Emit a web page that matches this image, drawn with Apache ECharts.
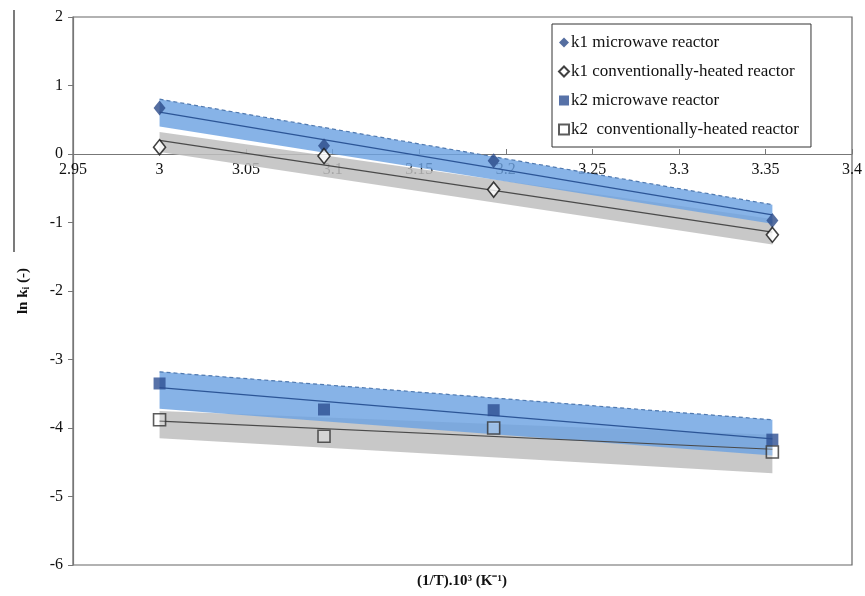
<!DOCTYPE html>
<html>
<head>
<meta charset="utf-8">
<script src="https://cdn.jsdelivr.net/npm/echarts@6/dist/echarts.min.js"></script>
<style>html,body{margin:0;padding:0;background:#fff}#c{width:865px;height:596px}</style>
</head>
<body>
<div id="c"></div>
<script>
// ---- data ----
const xValues = [3.0, 3.095, 3.193, 3.354];
const k1Microwave = [0.67, 0.12, -0.10, -0.97];
const k1Conventional = [0.10, -0.03, -0.52, -1.18];
const k2Microwave = [-3.35, -3.73, -3.74, -4.17];
const k2Conventional = [-3.88, -4.12, -4.00, -4.35];

// trend lines and shaded bands (ends at x = 3.0 and x = 3.354)
const trendX = [3.0, 3.354];
const k1MicrowaveTrend = [0.61, -0.89];
const k1ConventionalTrend = [0.20, -1.14];
const k2MicrowaveTrend = [-3.41, -4.16];
const k2ConventionalTrend = [-3.90, -4.31];
const k1MicrowaveBandHi = [0.80, -0.74];
const k1MicrowaveBandLo = [0.40, -1.02];
const k1ConventionalBandHi = [0.32, -0.95];
const k1ConventionalBandLo = [0.03, -1.32];
const k2MicrowaveBandHi = [-3.18, -3.88];
const k2MicrowaveBandLo = [-3.72, -4.40];
const k2ConventionalBandHi = [-3.75, -4.10];
const k2ConventionalBandLo = [-4.15, -4.66];

const xTicks = { min: 2.95, max: 3.4, interval: 0.05 };
const yTicks = { min: -6, max: 2, interval: 1 };

const legendNames = ['k1 microwave reactor', 'k1 conventionally-heated reactor', 'k2 microwave reactor', 'k2  conventionally-heated reactor'];

const serif = "'Liberation Serif', 'DejaVu Serif', serif";

function pairs(xs, ys) { return xs.map((x, i) => [x, ys[i]]); }

function band(hi, lo, fill, edge) {
  return {
    type: 'custom',
    silent: true,
    z: 1,
    data: trendX.map((x, i) => [x, lo[i], hi[i]]),
    renderItem: function (params, api) {
      if (params.dataIndex !== 0) return null;
      const top = trendX.map((x, i) => api.coord([x, hi[i]]));
      const bot = trendX.map((x, i) => api.coord([x, lo[i]])).reverse();
      return {
        type: 'group',
        children: [
          { type: 'polygon', shape: { points: top.concat(bot) }, style: { fill: fill } },
          { type: 'polyline', shape: { points: top }, style: { stroke: edge, lineWidth: 1.2, lineDash: [4, 3], fill: null } }
        ]
      };
    }
  };
}

function trend(ys, color) {
  return {
    type: 'line', silent: true, z: 2, showSymbol: false,
    data: pairs(trendX, ys),
    lineStyle: { color: color, width: 1.2 }
  };
}

const chart = echarts.init(document.getElementById('c'), null, { renderer: 'canvas' });
chart.setOption({
  animation: false,
  backgroundColor: '#fff',
  grid: { left: 73, right: 13, top: 17, bottom: 31, show: true, borderColor: '#666', borderWidth: 1.2,
          containLabel: false, outerBoundsMode: 'none' },
  graphic: [
    { type: 'line', shape: { x1: 14, y1: 10, x2: 14, y2: 252 }, style: { stroke: '#222', lineWidth: 1.2 } },
    { type: 'text', x: 462, y: 574, style: { text: '(1/T).10³ (K⁻¹)', font: "bold 15px 'Liberation Serif', serif", fill: '#111', align: 'center' } }
  ],
  legend: {
    orient: 'vertical',
    left: 552, top: 24,
    data: legendNames,
    backgroundColor: '#fff',
    borderColor: '#333', borderWidth: 1,
    padding: [10, 12, 9, 6],
    itemGap: 12,
    itemWidth: 10, itemHeight: 10,
    textStyle: { fontFamily: serif, fontSize: 17, color: '#111', padding: [0, 0, 0, -3] }
  },
  xAxis: {
    type: 'value',
    min: xTicks.min, max: xTicks.max, interval: xTicks.interval,
    offset: -411,
    axisLine: { onZero: false, lineStyle: { color: '#777', width: 1.2 } },
    axisTick: { inside: true, length: 5, lineStyle: { color: '#777' } },
    axisLabel: { fontFamily: serif, fontSize: 16, color: '#111', margin: 8,
      formatter: v => String(+v.toFixed(2)) },
    splitLine: { show: false }
  },
  yAxis: {
    type: 'value',
    min: yTicks.min, max: yTicks.max, interval: yTicks.interval,
    name: '{a|ln k}{s|i}{a| (-)}', nameLocation: 'middle', nameGap: 42, nameRotate: 90,
    nameTextStyle: { rich: {
      a: { fontFamily: serif, fontSize: 15, fontWeight: 'bold', color: '#111' },
      s: { fontFamily: serif, fontSize: 10, fontWeight: 'bold', color: '#111', verticalAlign: 'bottom', padding: [6, 0, 0, 0] }
    } },
    axisLine: { show: true, lineStyle: { color: '#777', width: 1.2 } },
    axisTick: { show: true, length: 5, lineStyle: { color: '#777' } },
    axisLabel: { fontFamily: serif, fontSize: 16, color: '#111', margin: 10 },
    splitLine: { show: false }
  },
  series: [
    band(k1ConventionalBandHi, k1ConventionalBandLo, 'rgba(190,190,190,0.85)', 'rgba(150,150,150,0.0)'),
    band(k2ConventionalBandHi, k2ConventionalBandLo, 'rgba(190,190,190,0.85)', 'rgba(150,150,150,0.0)'),
    band(k1MicrowaveBandHi, k1MicrowaveBandLo, 'rgba(108,162,226,0.82)', '#4f79b0'),
    band(k2MicrowaveBandHi, k2MicrowaveBandLo, 'rgba(108,162,226,0.82)', '#4f79b0'),
    trend(k1ConventionalTrend, '#4a4a4a'),
    trend(k2ConventionalTrend, '#4a4a4a'),
    trend(k1MicrowaveTrend, '#2c5596'),
    trend(k2MicrowaveTrend, '#2c5596'),
    {
      name: legendNames[0], type: 'scatter', z: 5, symbol: 'diamond', symbolSize: [12, 15],
      data: pairs(xValues, k1Microwave),
      itemStyle: { color: '#2b4a88' }
    },
    {
      name: legendNames[1], type: 'scatter', z: 5, symbol: 'diamond', symbolSize: [12, 15],
      data: pairs(xValues, k1Conventional),
      itemStyle: { color: '#ffffff', borderColor: '#111', borderWidth: 1.6 }
    },
    {
      name: legendNames[2], type: 'scatter', z: 5, symbol: 'rect', symbolSize: 12,
      data: pairs(xValues, k2Microwave),
      itemStyle: { color: '#2d4f92' }
    },
    {
      name: legendNames[3], type: 'scatter', z: 5, symbol: 'rect', symbolSize: 12,
      data: pairs(xValues, k2Conventional),
      itemStyle: { color: 'rgba(255,255,255,0.3)', borderColor: '#333', borderWidth: 1.6 }
    }
  ]
});
</script>
</body>
</html>
